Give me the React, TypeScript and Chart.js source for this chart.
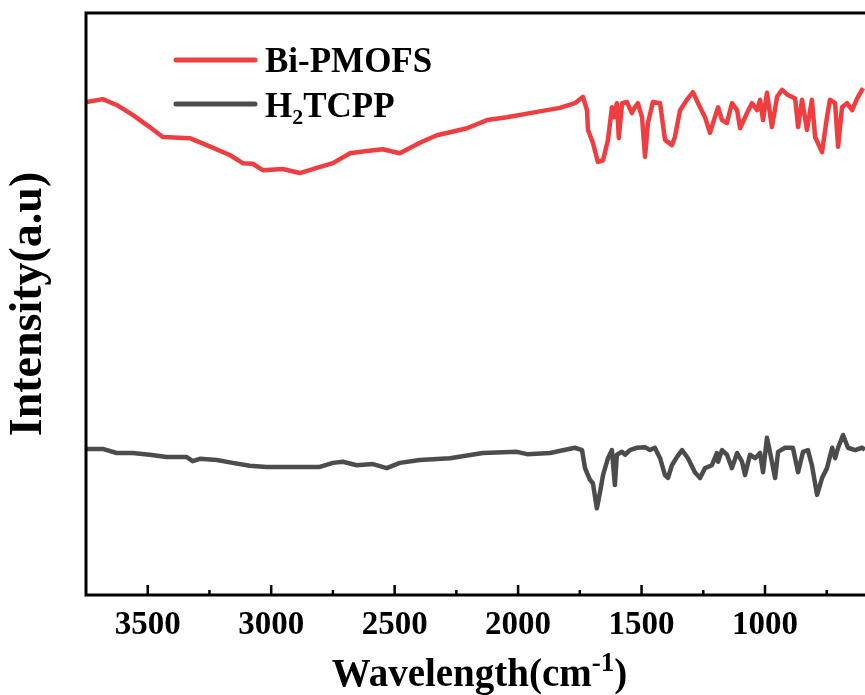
import { useEffect, useRef } from "react";
import { Chart, registerables } from "chart.js";

Chart.register(...registerables);

// ---- data (wavenumber in cm^-1, intensity in arbitrary units) ----
const SERIES_NAMES = ["Bi-PMOFS", "H2TCPP"];

const BI_WAVENUMBER = [
  3747, 3682, 3626, 3561, 3492, 3439, 3330, 3261, 3168, 3115,
  3075, 3034, 2953, 2884, 2815, 2750, 2681, 2613, 2548, 2479,
  2398, 2329, 2276, 2207, 2126, 2045, 1952, 1831,
  1770, 1737, 1721, 1717, 1697, 1677, 1656, 1636, 1620, 1612,
  1600, 1592, 1579, 1559, 1539, 1527, 1515, 1498, 1486, 1474,
  1454, 1425, 1405, 1377, 1365, 1344, 1316, 1292, 1271, 1243,
  1223, 1203, 1190, 1174, 1154, 1134, 1113, 1101, 1073, 1053,
  1032, 1020, 1008, 992, 972, 951, 931, 907, 878, 866,
  850, 830, 810, 797, 769, 749, 737, 716, 704, 688,
  668, 647, 627, 603,
];
const BI_INTENSITY = [
  84.7, 85.2, 84.2, 82.5, 80.4, 78.7, 78.5, 77.3, 75.6, 74.2,
  74.1, 73.0, 73.2, 72.5, 73.4, 74.2, 75.9, 76.3, 76.6, 75.9,
  77.7, 79.0, 79.5, 80.2, 81.6, 82.1, 82.8, 83.7,
  84.5, 85.6, 83.3, 79.9, 77.7, 74.4, 74.7, 78.2, 83.8, 82.1,
  84.5, 78.5, 84.5, 84.7, 82.8, 83.8, 84.5, 82.1, 75.3, 81.1,
  84.7, 84.5, 78.2, 77.3, 78.7, 83.3, 85.1, 86.4, 84.5, 82.1,
  79.4, 82.1, 83.8, 81.6, 81.1, 84.5, 83.3, 80.2, 82.8, 84.5,
  83.3, 85.1, 81.6, 86.3, 80.4, 85.6, 86.8, 85.9, 85.3, 80.4,
  85.1, 79.9, 85.1, 78.7, 76.1, 82.1, 85.1, 84.5, 77.0, 83.8,
  84.5, 83.3, 85.3, 87.1,
];

const H2_WAVENUMBER = [
  3747, 3682, 3626, 3561, 3492, 3423, 3342, 3318, 3289, 3220,
  3156, 3087, 3018, 2884, 2803, 2750, 2710, 2653, 2588, 2532,
  2479, 2398, 2276, 2143, 2005, 1964, 1871,
  1770, 1741, 1729, 1709, 1697, 1681, 1668, 1656, 1636, 1620,
  1608, 1600, 1579, 1567, 1547, 1519, 1486, 1466, 1446, 1425,
  1405, 1393, 1377, 1357, 1336, 1312, 1284, 1263, 1243, 1215,
  1195, 1190, 1174, 1154, 1134, 1113, 1093, 1081, 1061, 1040,
  1020, 1008, 992, 980, 959, 947, 919, 887, 866, 846,
  826, 810, 789, 769, 749, 728, 716, 704, 684, 664,
  635, 607, 595,
];
const H2_INTENSITY = [
  25.1, 25.1, 24.4, 24.4, 24.1, 23.7, 23.7, 23.0, 23.4, 23.2,
  22.7, 22.2, 22.0, 22.0, 22.0, 22.7, 22.9, 22.3, 22.5, 21.8,
  22.7, 23.2, 23.5, 24.4, 24.6, 24.2, 24.4,
  25.3, 24.9, 21.8, 19.8, 19.2, 14.9, 17.7, 20.6, 23.5, 24.9,
  18.9, 24.1, 24.6, 24.1, 24.9, 25.3, 25.4, 24.9, 25.3, 23.5,
  20.6, 20.1, 22.3, 23.7, 24.9, 23.5, 21.1, 20.1, 21.8, 22.3,
  24.4, 22.9, 24.9, 24.1, 21.8, 24.4, 22.9, 20.6, 24.1, 23.5,
  24.4, 21.1, 27.0, 24.6, 20.1, 24.6, 25.3, 25.3, 21.1, 24.6,
  24.9, 22.3, 17.2, 20.1, 21.8, 25.3, 23.5, 25.3, 27.5, 25.3,
  24.9, 25.3, 25.0,
];

const MAJOR_TICKS = [3500, 3000, 2500, 2000, 1500, 1000];
const MINOR_TICKS = [3250, 2750, 2250, 1750, 1250, 750];
const X_MIN = 595;
const X_MAX = 3750;
const Y_MIN = 0;
const Y_MAX = 100;

const RED = "rgb(240, 62, 64)";
const GRAY = "rgb(76, 76, 76)";
const FONT = "'Liberation Serif', 'Times New Roman', serif";

const decorPlugin = {
  id: "decor",
  afterDraw(chart: any) {
    const { ctx, chartArea: a } = chart;
    const x = chart.scales.x;
    ctx.save();
    ctx.strokeStyle = "#000";
    ctx.lineCap = "butt";
    // frame: top, left, bottom
    ctx.lineWidth = 3;
    ctx.beginPath();
    ctx.moveTo(a.right + 2, a.top);
    ctx.lineTo(a.left, a.top);
    ctx.lineTo(a.left, a.bottom);
    ctx.lineTo(a.right + 2, a.bottom);
    ctx.stroke();
    // inward ticks
    ctx.lineWidth = 2.5;
    MAJOR_TICKS.forEach((v) => {
      const px = x.getPixelForValue(v);
      ctx.beginPath();
      ctx.moveTo(px, a.bottom);
      ctx.lineTo(px, a.bottom - 10);
      ctx.stroke();
    });
    MINOR_TICKS.forEach((v) => {
      const px = x.getPixelForValue(v);
      ctx.beginPath();
      ctx.moveTo(px, a.bottom);
      ctx.lineTo(px, a.bottom - 5);
      ctx.stroke();
    });

    // legend
    ctx.lineCap = "round";
    ctx.lineWidth = 5;
    ctx.strokeStyle = RED;
    ctx.beginPath();
    ctx.moveTo(176, 60);
    ctx.lineTo(255, 60);
    ctx.stroke();
    ctx.strokeStyle = GRAY;
    ctx.beginPath();
    ctx.moveTo(176, 104);
    ctx.lineTo(255, 104);
    ctx.stroke();

    ctx.fillStyle = "#000";
    ctx.textBaseline = "alphabetic";
    ctx.textAlign = "left";
    ctx.font = `bold 35px ${FONT}`;
    ctx.fillText(SERIES_NAMES[0], 265, 72);
    let tx = 265;
    ctx.fillText("H", tx, 117);
    tx += ctx.measureText("H").width;
    ctx.font = `bold 22px ${FONT}`;
    ctx.fillText("2", tx, 124);
    tx += ctx.measureText("2").width;
    ctx.font = `bold 35px ${FONT}`;
    ctx.fillText("TCPP", tx, 117);

    // x title with superscript
    const main = "Wavelength(cm";
    const sup = "-1";
    const close = ")";
    ctx.font = `bold 39px ${FONT}`;
    const wMain = ctx.measureText(main).width;
    const wClose = ctx.measureText(close).width;
    ctx.font = `bold 27px ${FONT}`;
    const wSup = ctx.measureText(sup).width;
    const total = wMain + wSup + wClose;
    let sx = (a.left + a.right) / 2 + 4 - total / 2;
    const base = 686;
    ctx.font = `bold 39px ${FONT}`;
    ctx.fillText(main, sx, base);
    sx += wMain;
    ctx.font = `bold 27px ${FONT}`;
    ctx.fillText(sup, sx, base - 15);
    sx += wSup;
    ctx.font = `bold 39px ${FONT}`;
    ctx.fillText(close, sx, base);
    ctx.restore();
  },
};

export default function App() {
  const ref = useRef<HTMLCanvasElement | null>(null);

  useEffect(() => {
    if (!ref.current) return;
    const biData = BI_WAVENUMBER.map((w, i) => ({ x: w, y: BI_INTENSITY[i] }));
    const h2Data = H2_WAVENUMBER.map((w, i) => ({ x: w, y: H2_INTENSITY[i] }));
    const chart = new Chart(ref.current, {
      type: "line",
      data: {
        datasets: [
          {
            label: SERIES_NAMES[0],
            data: biData,
            borderColor: RED,
            backgroundColor: RED,
            borderWidth: 4.5,
            pointRadius: 0,
            tension: 0,
            borderJoinStyle: "round",
          },
          {
            label: SERIES_NAMES[1],
            data: h2Data,
            borderColor: GRAY,
            backgroundColor: GRAY,
            borderWidth: 4.5,
            pointRadius: 0,
            tension: 0,
            borderJoinStyle: "round",
          },
        ],
      },
      options: {
        animation: false,
        responsive: false,
        maintainAspectRatio: false,
        layout: { padding: { top: 13, right: 0, bottom: 0, left: 0 } },
        plugins: {
          legend: { display: false },
          tooltip: { enabled: false },
        },
        scales: {
          x: {
            type: "linear",
            reverse: true,
            min: X_MIN,
            max: X_MAX,
            grid: { display: false, drawTicks: false },
            border: { display: false },
            afterBuildTicks: (scale: any) => {
              scale.ticks = MAJOR_TICKS.map((v) => ({ value: v }));
            },
            afterFit: (scale: any) => {
              scale.height = 100;
            },
            ticks: {
              autoSkip: false,
              maxRotation: 0,
              minRotation: 0,
              padding: 11,
              color: "#000",
              font: { family: FONT, size: 33, weight: "bold" },
              callback: (v: any) => String(v),
            },
          },
          y: {
            type: "linear",
            min: Y_MIN,
            max: Y_MAX,
            grid: { display: false, drawTicks: false },
            border: { display: false },
            ticks: { display: false },
            afterFit: (scale: any) => {
              scale.width = 86;
            },
            title: {
              display: true,
              text: "Intensity(a.u)",
              color: "#000",
              font: { family: FONT, size: 46, weight: "bold" },
              padding: { top: 2, bottom: 0 },
            },
          },
        },
      },
      plugins: [decorPlugin],
    });
    return () => chart.destroy();
  }, []);

  return (
    <canvas
      ref={ref}
      width={865}
      height={695}
      style={{ position: "absolute", left: 0, top: 0, width: 865, height: 695 }}
    />
  );
}
